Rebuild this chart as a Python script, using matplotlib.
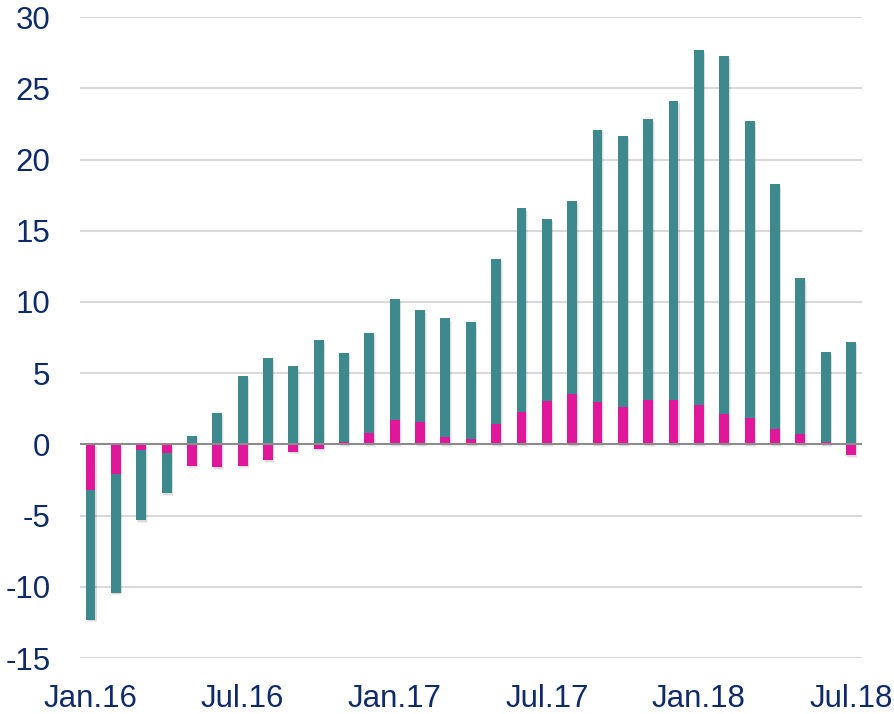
import matplotlib
matplotlib.use("Agg")
import matplotlib.pyplot as plt
import numpy as np

plt.rcParams["font.family"] = ["Liberation Sans", "DejaVu Sans"]
plt.rcParams["axes.unicode_minus"] = False

months = ["Jan.16", "Feb.16", "Mar.16", "Apr.16", "May.16", "Jun.16",
          "Jul.16", "Aug.16", "Sep.16", "Oct.16", "Nov.16", "Dec.16",
          "Jan.17", "Feb.17", "Mar.17", "Apr.17", "May.17", "Jun.17",
          "Jul.17", "Aug.17", "Sep.17", "Oct.17", "Nov.17", "Dec.17",
          "Jan.18", "Feb.18", "Mar.18", "Apr.18", "May.18", "Jun.18",
          "Jul.18"]

# magenta component (drawn next to zero)
magenta = [-3.2, -2.1, -0.4, -0.6, -1.5, -1.6, -1.5, -1.1, -0.5, -0.3,
           0.2, 0.8, 1.7, 1.6, 0.5, 0.35, 1.45, 2.25, 3.05, 3.55,
           3.0, 2.65, 3.15, 3.15, 2.8, 2.15, 1.85, 1.1, 0.75, 0.15,
           -0.75]
# teal component (stacked outside)
teal = [-9.1, -8.3, -4.9, -2.8, 0.6, 2.2, 4.8, 6.1, 5.5, 7.35,
        6.2, 7.0, 8.5, 7.85, 8.35, 8.25, 11.6, 14.35, 12.75, 13.55,
        19.1, 19.0, 19.7, 20.95, 24.9, 25.1, 20.85, 17.2, 10.95, 6.35,
        7.2]

yticks = [-15, -10, -5, 0, 5, 10, 15, 20, 25, 30]
xtick_labels = ["Jan.16", "Jul.16", "Jan.17", "Jul.17", "Jan.18", "Jul.18"]

TEAL = "#3D898D"
MAGENTA = "#E0179A"
TEXT = "#0F2A6B"

m = np.array(magenta)
t = np.array(teal)
x = np.arange(len(months))
W = 0.39

# stack positives and negatives separately
t_bottom = np.where(np.sign(t) == np.sign(m), m, 0.0)

fig = plt.figure(figsize=(8.95, 7.14), dpi=100)
ax = fig.add_axes([0.089, 0.0784, 0.874, 0.8976])

# soft shadow behind the whole stacked bar
lo = np.minimum(0, np.minimum(m, m + t))
lo = np.minimum(lo, np.minimum(m, t))
hi = np.maximum(0, np.maximum(m, t_bottom + t))
for dx, dy, a in [(0.06, -0.2, 0.06), (0.04, -0.12, 0.08)]:
    ax.bar(x + dx, hi - lo, bottom=lo + dy, width=W, color="#000000",
           alpha=a, linewidth=0, zorder=2)

ax.bar(x, m, width=W, color=MAGENTA, zorder=3)
ax.bar(x, t, bottom=t_bottom, width=W, color=TEAL, zorder=3)

ax.set_ylim(-15, 30)
ax.set_xlim(-0.43, len(months) - 1 + 0.43)
ax.set_yticks(yticks)
ax.yaxis.grid(True, color="#D9D9D9", linewidth=1.5, zorder=0)
ax.set_axisbelow(True)
ax.axhline(0, color="#8C8C8C", linewidth=1.5, zorder=4)

ax.set_xticks([months.index(lbl) for lbl in xtick_labels], xtick_labels)
ax.tick_params(axis="both", length=0, labelsize=22.5, labelcolor=TEXT)
ax.tick_params(axis="y", pad=21)
ax.tick_params(axis="x", pad=19)

for s in ax.spines.values():
    s.set_visible(False)

plt.savefig("out.png", dpi=100)
plt.close()
